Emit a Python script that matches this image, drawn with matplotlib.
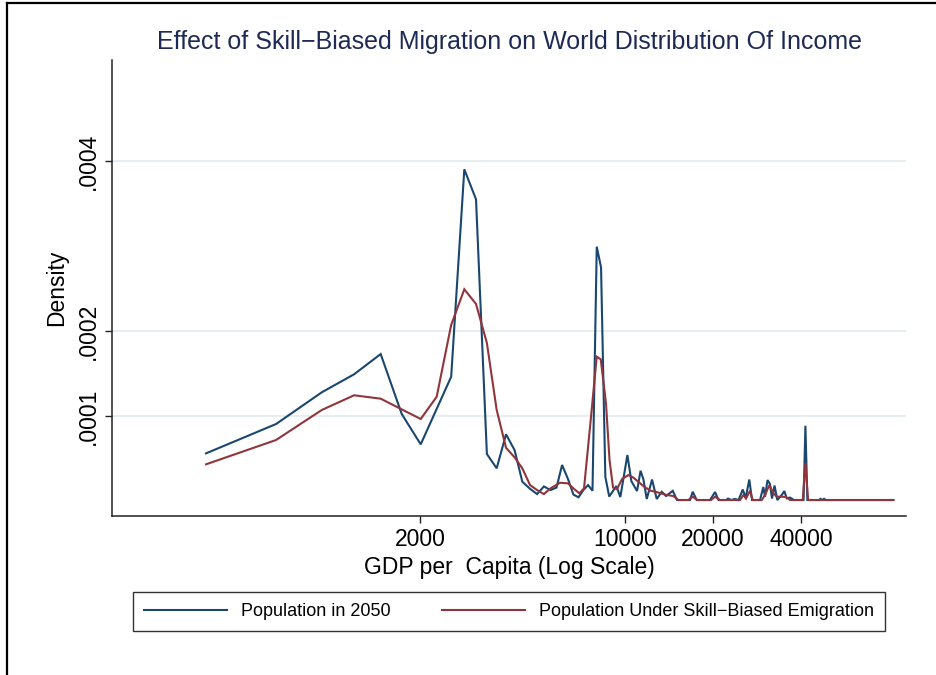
import matplotlib
matplotlib.use("Agg")
import matplotlib.pyplot as plt
from matplotlib.lines import Line2D
from matplotlib.ticker import FixedLocator, FixedFormatter, NullLocator

plt.rcParams['font.family'] = ['Liberation Sans', 'DejaVu Sans']

# GDP per capita (x) and density (y, in units of 1e-4)
pop2050_x = [372, 645, 924, 1191, 1468, 1732, 2011, 2555, 2833, 3106, 3383, 3654,
             3932, 4205, 4470, 4749, 5020, 5295, 5580, 5848, 6110, 6400, 6680, 6950,
             7225, 7497, 7760, 8024, 8300, 8584, 8850, 9360, 9658, 10210, 10530,
             11014, 11322, 11574, 11886, 12394, 12858, 13374, 13834, 14584, 15084,
             16702, 17062, 17608, 19548, 20334, 20900, 22170, 22524, 23060, 23800,
             24460, 25280, 25880, 26620, 27200, 28960, 29720, 30120, 30720, 31320,
             31820, 32460, 33180, 34360, 35060, 35720, 36660, 37840, 40780, 41380,
             42020, 46040, 46600, 47160, 47900, 48660, 82580]
pop2050_y = [0.561, 0.906, 1.279, 1.491, 1.729, 1.024, 0.667, 1.462, 3.902, 3.549, 0.553,
             0.385, 0.785, 0.600, 0.227, 0.144, 0.082, 0.171, 0.129, 0.159, 0.424, 0.259,
             0.076, 0.044, 0.129, 0.188, 0.121, 2.992, 2.749, 0.286, 0.053, 0.176, 0.047,
             0.541, 0.235, 0.118, 0.356, 0.259, 0.024, 0.253, 0.024, 0.109, 0.059, 0.120,
             0.012, 0.012, 0.109, 0.012, 0.012, 0.106, 0.012, 0.012, 0.029, 0.012, 0.024,
             0.012, 0.135, 0.039, 0.253, 0.012, 0.012, 0.165, 0.051, 0.247, 0.200, 0.029,
             0.182, 0.012, 0.071, 0.118, 0.032, 0.041, 0.012, 0.012, 0.886, 0.012, 0.012,
             0.026, 0.012, 0.026, 0.012, 0.012]

emig_x = [372, 645, 924, 1191, 1468, 2011, 2280, 2555, 2833, 3106, 3383, 3654, 3932,
          4205, 4470, 4749, 5020, 5295, 5580, 6012, 6400, 6680, 6996, 7260, 7652, 8024,
          8280, 8630, 8872, 9120, 9412, 9788, 10288, 10698, 11128, 11574, 12200, 13022,
          13910, 14652, 15236, 16482, 17062, 17690, 19704, 20334, 21140, 24760, 25400,
          25940, 26760, 27340, 29360, 30120, 31160, 32160, 33020, 34360, 35540, 36660,
          40520, 41380, 42260, 82580]
emig_y = [0.432, 0.718, 1.071, 1.244, 1.204, 0.965, 1.227, 2.071, 2.491, 2.318, 1.859,
          1.071, 0.627, 0.514, 0.385, 0.188, 0.129, 0.082, 0.149, 0.215, 0.208, 0.149,
          0.091, 0.149, 0.953, 1.698, 1.667, 1.149, 0.482, 0.159, 0.141, 0.259, 0.306,
          0.276, 0.227, 0.176, 0.124, 0.100, 0.071, 0.059, 0.012, 0.012, 0.051, 0.012,
          0.012, 0.051, 0.012, 0.012, 0.071, 0.029, 0.121, 0.012, 0.012, 0.071, 0.188,
          0.091, 0.051, 0.051, 0.047, 0.012, 0.012, 0.444, 0.012, 0.012]

x_ticks = [2000, 10000, 20000, 40000]
x_tick_labels = ["2000", "10000", "20000", "40000"]
y_ticks = [0.0001, 0.0002, 0.0004]
y_tick_labels = [".0001", ".0002", ".0004"]

series_labels = ["Population in 2050", "Population Under Skill\u2212Biased Emigration"]
title = "Effect of Skill\u2212Biased Migration on World Distribution Of Income"

W, H = 936, 675
fig = plt.figure(figsize=(W / 100, H / 100), dpi=100)
ax = fig.add_axes([112 / W, 1 - 516 / H, 794 / W, 456 / H])

blue = "#1a476f"
red = "#90353b"
l1, = ax.plot(pop2050_x, [v * 1e-4 for v in pop2050_y], color=blue, lw=1.5,
              solid_joinstyle='miter')
l2, = ax.plot(emig_x, [v * 1e-4 for v in emig_y], color=red, lw=1.5,
              solid_joinstyle='miter')

ax.set_xscale('log')
ax.set_xlim(177.6, 91240)
ax.set_ylim(-0.176e-4, 5.188e-4)

ax.xaxis.set_major_locator(FixedLocator(x_ticks))
ax.xaxis.set_major_formatter(FixedFormatter(x_tick_labels))
ax.xaxis.set_minor_locator(NullLocator())
ax.set_yticks(y_ticks)
ax.set_yticklabels(y_tick_labels, rotation=90, va='center')

for y in y_ticks:
    ax.axhline(y, color="#e6eef1", lw=1.5, zorder=0)

for s in ['top', 'right']:
    ax.spines[s].set_visible(False)
for s in ['left', 'bottom']:
    ax.spines[s].set_color('#222222')
    ax.spines[s].set_linewidth(1.1)

ax.tick_params(axis='both', direction='out', length=5, width=1.0, color='#222222',
               labelsize=16.5, pad=4)

ax.set_xlabel("GDP per  Capita (Log Scale)", fontsize=16.5, labelpad=3)
ax.set_ylabel("Density", fontsize=16.5, labelpad=6)

fig.text(510 / W, 1 - 42 / H, title, ha='center', va='center', fontsize=18,
         color="#1e2a55")

leg = fig.legend([l1, l2], series_labels, ncol=2, mode='expand',
                 bbox_to_anchor=(133 / W, 1 - 633 / H, 752 / W, 43 / H),
                 loc='center', frameon=True, fancybox=False, shadow=False,
                 prop={'family': ['Liberation Sans Narrow', 'Liberation Sans'], 'size': 13},
                 handlelength=4.6, handletextpad=0.8, borderaxespad=0,
                 borderpad=0.6, columnspacing=2.0)
leg.get_frame().set_edgecolor('black')
leg.get_frame().set_linewidth(1.0)

# outer frame (left and top edges visible)
fig.add_artist(Line2D([7 / W, 7 / W], [0, 1 - 2.5 / H], color='black', lw=1.6))
fig.add_artist(Line2D([7 / W, 1], [1 - 2.5 / H, 1 - 2.5 / H], color='black', lw=1.6))

fig.savefig("out.png", dpi=100)
